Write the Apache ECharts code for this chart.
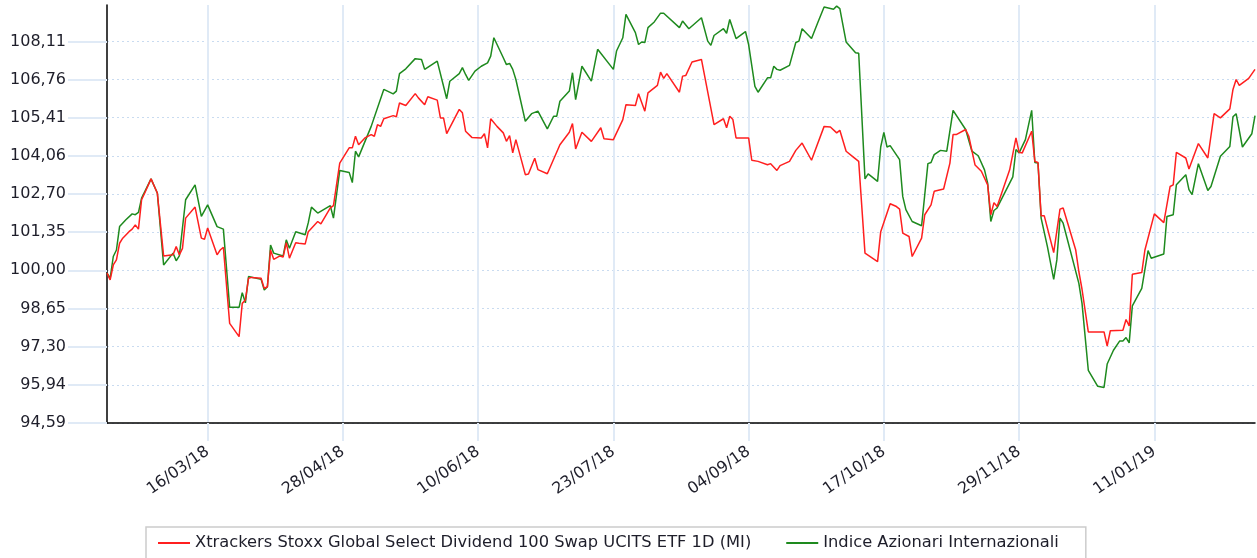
<!DOCTYPE html>
<html>
<head>
<meta charset="utf-8">
<script src="https://cdn.jsdelivr.net/npm/echarts@6/dist/echarts.min.js"></script>
<style>
html,body{margin:0;padding:0;background:#fff;}
#chart{width:1257px;height:558px;}
</style>
</head>
<body>
<div id="chart"></div>
<script>
const startDate = '2018-02-12';
const endDate = '2019-02-12';
const tickDates = ['2018-03-16','2018-04-28','2018-06-10','2018-07-23','2018-09-04','2018-10-17','2018-11-29','2019-01-11'];
const yTickStart = 94.592;
const yTickStep = 1.352;

const redName = 'Xtrackers Stoxx Global Select Dividend 100 Swap UCITS ETF 1D (MI)';
const greenName = 'Indice Azionari Internazionali';

const redDates = [
'2018-02-12','2018-02-13','2018-02-14','2018-02-15','2018-02-16','2018-02-17','2018-02-19','2018-02-20','2018-02-21','2018-02-22',
'2018-02-23','2018-02-24','2018-02-26','2018-02-28','2018-03-02','2018-03-05','2018-03-06','2018-03-07','2018-03-08','2018-03-09',
'2018-03-12','2018-03-14','2018-03-15','2018-03-16','2018-03-19','2018-03-20','2018-03-21','2018-03-23','2018-03-26','2018-03-27',
'2018-03-28','2018-03-29','2018-03-30','2018-04-02','2018-04-03','2018-04-04','2018-04-05','2018-04-06','2018-04-08','2018-04-09',
'2018-04-10','2018-04-11','2018-04-13','2018-04-14','2018-04-16','2018-04-17','2018-04-20','2018-04-21','2018-04-24','2018-04-25',
'2018-04-27','2018-04-30','2018-05-01','2018-05-02','2018-05-03','2018-05-05','2018-05-07','2018-05-08','2018-05-09','2018-05-10',
'2018-05-11','2018-05-14','2018-05-15','2018-05-16','2018-05-18','2018-05-21','2018-05-22','2018-05-24','2018-05-25','2018-05-28',
'2018-05-29','2018-05-30','2018-05-31','2018-06-04','2018-06-05','2018-06-06','2018-06-08','2018-06-11','2018-06-12','2018-06-13',
'2018-06-14','2018-06-16','2018-06-18','2018-06-19','2018-06-20','2018-06-21','2018-06-22','2018-06-25','2018-06-26','2018-06-28',
'2018-06-29','2018-07-02','2018-07-06','2018-07-09','2018-07-10','2018-07-11','2018-07-13','2018-07-16','2018-07-19','2018-07-20',
'2018-07-23','2018-07-26','2018-07-27','2018-07-30','2018-07-31','2018-08-02','2018-08-03','2018-08-06','2018-08-07','2018-08-08',
'2018-08-09','2018-08-13','2018-08-14','2018-08-15','2018-08-17','2018-08-20','2018-08-24','2018-08-27','2018-08-28','2018-08-29',
'2018-08-30','2018-08-31','2018-09-04','2018-09-05','2018-09-07','2018-09-10','2018-09-11','2018-09-13','2018-09-14','2018-09-17',
'2018-09-19','2018-09-21','2018-09-24','2018-09-28','2018-09-30','2018-10-02','2018-10-03','2018-10-05','2018-10-07','2018-10-09',
'2018-10-11','2018-10-15','2018-10-16','2018-10-19','2018-10-21','2018-10-22','2018-10-23','2018-10-25','2018-10-26','2018-10-29',
'2018-10-30','2018-11-01','2018-11-02','2018-11-05','2018-11-07','2018-11-08','2018-11-09','2018-11-12','2018-11-13','2018-11-15',
'2018-11-17','2018-11-19','2018-11-20','2018-11-21','2018-11-22','2018-11-26','2018-11-28','2018-11-29','2018-11-30','2018-12-03',
'2018-12-04','2018-12-05','2018-12-06','2018-12-07','2018-12-10','2018-12-12','2018-12-13','2018-12-17','2018-12-18','2018-12-19',
'2018-12-21','2018-12-26','2018-12-27','2018-12-28','2019-01-01','2019-01-02','2019-01-03','2019-01-04','2019-01-07','2019-01-08',
'2019-01-11','2019-01-14','2019-01-16','2019-01-17','2019-01-18','2019-01-21','2019-01-22','2019-01-25','2019-01-28','2019-01-30',
'2019-02-01','2019-02-04','2019-02-05','2019-02-06','2019-02-07','2019-02-10','2019-02-12'
];
const redValues = [
99.90,99.66,100.19,100.37,100.96,101.14,101.37,101.46,101.61,101.46,
102.50,102.74,103.24,102.74,100.51,100.55,100.84,100.55,100.78,101.85,
102.24,101.14,101.10,101.50,100.55,100.72,100.82,98.12,97.65,98.83,
98.95,99.72,99.75,99.72,99.36,99.42,100.72,100.39,100.51,100.47,
100.98,100.43,100.98,100.96,100.93,101.37,101.73,101.65,102.21,102.29,
103.80,104.34,104.34,104.75,104.45,104.69,104.81,104.75,105.16,105.10,
105.37,105.48,105.44,105.93,105.84,106.26,106.11,105.87,106.15,106.03,
105.40,105.40,104.84,105.70,105.58,104.93,104.71,104.69,104.84,104.34,
105.37,105.10,104.87,104.57,104.77,104.16,104.63,103.39,103.41,103.97,
103.57,103.42,104.45,104.89,105.20,104.30,104.89,104.57,105.05,104.66,
104.63,105.34,105.87,105.84,106.26,105.64,106.29,106.55,107.02,106.80,
106.97,106.31,106.88,106.90,107.38,107.47,105.16,105.37,105.05,105.46,
105.34,104.69,104.69,103.90,103.86,103.74,103.78,103.54,103.71,103.86,
104.25,104.51,103.90,105.10,105.08,104.87,104.96,104.22,104.04,103.86,
100.61,100.31,101.37,102.36,102.26,102.17,101.32,101.20,100.49,101.14,
101.97,102.32,102.80,102.88,103.80,104.81,104.81,104.99,104.75,103.73,
103.51,103.03,101.97,102.40,102.26,103.56,104.69,104.18,104.16,104.93,
103.86,103.82,101.93,101.93,100.63,102.17,102.21,100.72,99.95,99.33,
97.82,97.82,97.32,97.86,97.88,98.26,98.03,99.86,99.92,100.72,
102.00,101.69,102.97,103.03,104.18,103.98,103.59,104.49,103.98,105.55,
105.40,105.72,106.41,106.76,106.55,106.80,107.12
];

const greenDates = [
'2018-02-12','2018-02-13','2018-02-14','2018-02-15','2018-02-16','2018-02-18','2018-02-20','2018-02-21','2018-02-22','2018-02-23',
'2018-02-26','2018-02-28','2018-03-02','2018-03-05','2018-03-06','2018-03-07','2018-03-09','2018-03-12','2018-03-14','2018-03-16',
'2018-03-19','2018-03-21','2018-03-23','2018-03-26','2018-03-27','2018-03-28','2018-03-29','2018-04-02','2018-04-03','2018-04-04',
'2018-04-05','2018-04-06','2018-04-09','2018-04-10','2018-04-11','2018-04-13','2018-04-16','2018-04-17','2018-04-18','2018-04-20',
'2018-04-24','2018-04-25','2018-04-27','2018-04-30','2018-05-01','2018-05-02','2018-05-03','2018-05-07','2018-05-11','2018-05-14',
'2018-05-15','2018-05-16','2018-05-18','2018-05-21','2018-05-23','2018-05-24','2018-05-28','2018-05-31','2018-06-01','2018-06-04',
'2018-06-05','2018-06-06','2018-06-07','2018-06-09','2018-06-11','2018-06-13','2018-06-14','2018-06-15','2018-06-18','2018-06-19',
'2018-06-20','2018-06-21','2018-06-22','2018-06-25','2018-06-27','2018-06-29','2018-07-02','2018-07-04','2018-07-05','2018-07-06',
'2018-07-09','2018-07-10','2018-07-11','2018-07-13','2018-07-16','2018-07-18','2018-07-23','2018-07-24','2018-07-26','2018-07-27',
'2018-07-30','2018-07-31','2018-08-01','2018-08-02','2018-08-03','2018-08-05','2018-08-07','2018-08-08','2018-08-13','2018-08-14',
'2018-08-16','2018-08-20','2018-08-22','2018-08-23','2018-08-24','2018-08-27','2018-08-28','2018-08-29','2018-08-31','2018-09-03',
'2018-09-04','2018-09-06','2018-09-07','2018-09-10','2018-09-11','2018-09-12','2018-09-13','2018-09-14','2018-09-17','2018-09-19',
'2018-09-20','2018-09-21','2018-09-24','2018-09-26','2018-09-28','2018-10-01','2018-10-02','2018-10-03','2018-10-05','2018-10-08',
'2018-10-09','2018-10-11','2018-10-12','2018-10-15','2018-10-16','2018-10-17','2018-10-18','2018-10-19','2018-10-22','2018-10-23',
'2018-10-24','2018-10-26','2018-10-29','2018-10-31','2018-11-01','2018-11-02','2018-11-04','2018-11-06','2018-11-08','2018-11-12',
'2018-11-14','2018-11-16','2018-11-18','2018-11-19','2018-11-20','2018-11-21','2018-11-22','2018-11-27','2018-11-28','2018-11-29',
'2018-12-01','2018-12-03','2018-12-04','2018-12-05','2018-12-06','2018-12-08','2018-12-10','2018-12-11','2018-12-12','2018-12-13',
'2018-12-18','2018-12-19','2018-12-21','2018-12-24','2018-12-26','2018-12-27','2018-12-29','2018-12-31','2019-01-01','2019-01-02',
'2019-01-03','2019-01-04','2019-01-07','2019-01-09','2019-01-10','2019-01-14','2019-01-15','2019-01-17','2019-01-18','2019-01-21',
'2019-01-22','2019-01-23','2019-01-25','2019-01-28','2019-01-29','2019-02-01','2019-02-04','2019-02-05','2019-02-06','2019-02-08',
'2019-02-11','2019-02-12'
];
const greenValues = [
99.90,99.72,100.49,100.72,101.55,101.79,102.00,101.97,102.05,102.56,
103.24,102.74,100.19,100.61,100.34,100.51,102.50,103.03,101.91,102.32,
101.55,101.46,98.69,98.69,99.21,98.85,99.78,99.68,99.30,99.42,
100.90,100.61,100.51,101.08,100.78,101.37,101.26,101.69,102.24,102.03,
102.29,101.85,103.54,103.47,103.11,104.22,104.02,105.10,106.41,106.25,
106.35,106.97,107.14,107.50,107.47,107.12,107.41,106.08,106.70,106.97,
107.18,106.94,106.73,107.06,107.23,107.35,107.59,108.24,107.53,107.29,
107.33,107.12,106.76,105.28,105.55,105.64,105.01,105.46,105.46,105.99,
106.35,107.00,106.05,107.23,106.70,107.83,107.12,107.77,108.24,109.07,
108.42,108.00,108.09,108.07,108.60,108.80,109.11,109.11,108.60,108.83,
108.56,108.95,108.12,107.97,108.32,108.56,108.40,108.89,108.21,108.46,
108.00,106.52,106.31,106.82,106.82,107.23,107.12,107.09,107.26,108.07,
108.12,108.56,108.21,108.78,109.33,109.25,109.36,109.27,108.09,107.71,
107.69,103.24,103.42,103.15,104.37,104.89,104.37,104.42,103.92,102.62,
102.15,101.73,101.58,103.78,103.82,104.10,104.25,104.22,105.67,104.99,
104.22,104.06,103.56,103.09,101.73,102.12,102.21,103.31,104.28,104.16,
104.63,105.67,103.82,103.80,101.85,100.84,99.68,100.37,101.85,101.67,
99.54,98.83,96.46,95.89,95.85,96.68,97.17,97.50,97.50,97.62,
97.43,98.74,99.36,100.70,100.43,100.58,101.91,101.97,103.03,103.39,
102.86,102.68,103.78,102.83,102.97,104.04,104.39,105.44,105.55,104.37,
104.84,105.48
];

function buildDays(a, b) {
  const out = [];
  const p = a.split('-').map(Number), q = b.split('-').map(Number);
  let t = Date.UTC(p[0], p[1] - 1, p[2]);
  const end = Date.UTC(q[0], q[1] - 1, q[2]);
  while (t <= end) {
    const d = new Date(t);
    const s = d.getUTCFullYear() + '-' + String(d.getUTCMonth() + 1).padStart(2, '0') + '-' + String(d.getUTCDate()).padStart(2, '0');
    out.push(s);
    t += 86400000;
  }
  return out;
}
const days = buildDays(startDate, endDate);
const tickSet = new Set(tickDates);
const showTick = (i, v) => tickSet.has(v);
function fmtDate(v) { const p = v.split('-'); return p[2] + '/' + p[1] + '/' + p[0].slice(2); }
const pairs = (ds, vs) => ds.map((d, i) => [d, vs[i]]);

const FONT = 'DejaVu Sans';
const TXT = '#1e1e2a';
const GRID = '#e0eaf6';

const chart = echarts.init(document.getElementById('chart'), null, {renderer: 'canvas'});
chart.setOption({
  animation: false,
  backgroundColor: '#fff',
  grid: {left: 107, right: 2, top: 5, bottom: 135, containLabel: false},
  legend: {
    left: 146, top: 527,
    padding: [8, 27, 8, 12],
    itemGap: 35, itemWidth: 32, itemHeight: 2,
    icon: 'rect',
    borderColor: '#cccccc', borderWidth: 1.5,
    textStyle: {fontFamily: FONT, fontSize: 16.3, color: TXT},
    data: [redName, greenName]
  },
  xAxis: {
    type: 'category',
    data: days,
    boundaryGap: false,
    axisLine: {show: true, onZero: false, lineStyle: {color: '#000', width: 1.5}},
    axisTick: {show: true, interval: showTick, length: 18, lineStyle: {color: GRID, width: 2}},
    axisLabel: {interval: showTick, rotate: 35, margin: 27, fontFamily: FONT, fontSize: 16, color: TXT, formatter: fmtDate},
    splitLine: {show: true, interval: showTick, lineStyle: {color: GRID, width: 2, type: 'solid'}}
  },
  yAxis: {
    type: 'value',
    min: yTickStart,
    max: 109.40,
    interval: yTickStep,
    axisLine: {show: true, lineStyle: {color: '#000', width: 1.5}},
    axisTick: {show: true, length: 39, lineStyle: {color: GRID, width: 2}},
    axisLabel: {margin: 41, showMaxLabel: false, fontFamily: FONT, fontSize: 16, color: TXT,
      formatter: v => v.toFixed(2).replace('.', ',')},
    splitLine: {show: true, showMaxLine: false, lineStyle: {color: '#c9dbf0', width: 1, type: [2, 3]}}
  },
  series: [
    {name: redName, type: 'line', data: pairs(redDates, redValues), showSymbol: false, symbol: 'none',
      lineStyle: {color: '#ff1f1f', width: 1.5}, itemStyle: {color: '#ff1f1f'}, z: 3},
    {name: greenName, type: 'line', data: pairs(greenDates, greenValues), showSymbol: false, symbol: 'none',
      lineStyle: {color: '#1e8a1e', width: 1.5}, itemStyle: {color: '#1e8a1e'}, z: 2}
  ]
});
</script>
</body>
</html>
